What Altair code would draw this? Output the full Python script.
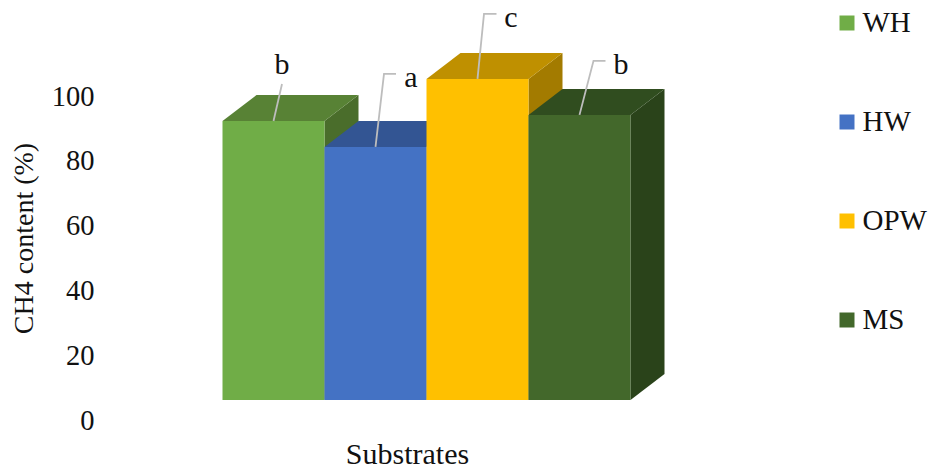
import altair as alt
import pandas as pd

# Substrates and their methane content (%), with significance letters
substrates = ["WH", "HW", "OPW", "MS"]
ch4_content = [86.1, 78.1, 99.1, 88.0]
letters = ["b", "a", "c", "b"]

front_colors = ["#70AD47", "#4472C4", "#FFC000", "#43682B"]
top_colors = ["#588235", "#335593", "#BF9000", "#304D1F"]
side_colors = ["#4A6D2B", "#2F4E88", "#A37B00", "#2A431A"]

TICKS = [0, 20, 40, 60, 80, 100]

# Plot scale and the 3-D extrusion of each column
PX_PER_BAR = 102.0
PX_PER_UNIT = 3.24
LEFT, TOP, PLOT_W, PLOT_H = 100, 0, 700, 400
BAR_START_PX = 222.5
DEPTH_X = 34 / PX_PER_BAR
DEPTH_Y = 26 / PX_PER_UNIT

# Leader lines: elbow and end of each line, relative to the column's top centre (px)
leader_elbow = [(8.5, 37), (8.5, 73), (6.5, 65), (14, 54)]
leader_end = [(8.5, 37), (20.5, 73), (19, 65), (26, 54)]
label_shift = [(8.5, 56), (35.5, 69), (33.5, 61), (41.5, 50)]

x_domain = [(LEFT - BAR_START_PX) / PX_PER_BAR,
            (LEFT + PLOT_W - BAR_START_PX) / PX_PER_BAR]
y_domain = [0, PLOT_H / PX_PER_UNIT]

front_rows, top_rows, side_rows, leader_rows, label_rows = [], [], [], [], []
for i, (name, v) in enumerate(zip(substrates, ch4_content)):
    x0, x1 = float(i), float(i + 1)
    front_rows.append({"name": name, "x0": x0, "x1": x1, "v": v})
    for x, y, y2 in [(x0, v, v),
                     (x0 + DEPTH_X, v + DEPTH_Y, v),
                     (x1, v + DEPTH_Y, v),
                     (x1 + DEPTH_X, v + DEPTH_Y, v + DEPTH_Y)]:
        top_rows.append({"name": name, "x": x, "y": y, "y2": y2, "shade": top_colors[i]})
    for x, y, y2 in [(x1, v, 0.0), (x1 + DEPTH_X, v + DEPTH_Y, DEPTH_Y)]:
        side_rows.append({"name": name, "x": x, "y": y, "y2": y2, "shade": side_colors[i]})

    cx = i + 0.5
    path = [(0.0, 0.0), leader_elbow[i], leader_end[i]]
    for k, (dx, dy) in enumerate(path):
        leader_rows.append({"name": f"{name}", "k": k,
                            "x": cx + dx / PX_PER_BAR, "y": v + dy / PX_PER_UNIT})
    label_rows.append({"x": cx + label_shift[i][0] / PX_PER_BAR,
                       "y": v + label_shift[i][1] / PX_PER_UNIT, "letter": letters[i]})

x_scale = alt.Scale(domain=x_domain, nice=False, zero=False)
y_scale = alt.Scale(domain=y_domain, nice=False, zero=False)
FONT = "Liberation Serif"
INK = "#111111"

x_axis = alt.Axis(title="Substrates", domain=False, ticks=False, labels=False, grid=False,
                  titleFont=FONT, titleFontSize=30, titleFontWeight="normal", titleColor=INK,
                  titleX=307, titleY=63, titleAnchor="middle", titleAlign="center",
                  titleBaseline="alphabetic")
y_axis = alt.Axis(title="CH4 content (%)", values=TICKS, domain=False, ticks=False, grid=False,
                  labelOffset=20, labelPadding=6, labelFont=FONT, labelFontSize=28.5,
                  labelColor=INK, titleFont=FONT, titleFontSize=28, titleFontWeight="normal",
                  titleColor=INK, titleX=-68, titleY=238, titleAngle=270, titleAlign="center",
                  titleBaseline="alphabetic")

sides = alt.Chart(pd.DataFrame(side_rows)).mark_area(orient="vertical", interpolate="linear").encode(
    x=alt.X("x:Q", scale=x_scale, axis=x_axis),
    y=alt.Y("y:Q", scale=y_scale, axis=y_axis, stack=None),
    y2="y2:Q",
    fill=alt.Fill("shade:N", scale=None),
)
tops = alt.Chart(pd.DataFrame(top_rows)).mark_area(orient="vertical", interpolate="linear").encode(
    x=alt.X("x:Q", scale=x_scale),
    y=alt.Y("y:Q", scale=y_scale, stack=None),
    y2="y2:Q",
    fill=alt.Fill("shade:N", scale=None),
)
fronts = alt.Chart(pd.DataFrame(front_rows)).mark_rect().encode(
    x=alt.X("x0:Q", scale=x_scale),
    x2="x1:Q",
    y=alt.Y("v:Q", scale=y_scale),
    y2=alt.Y2(datum=0),
    color=alt.Color(
        "name:N",
        scale=alt.Scale(domain=substrates, range=front_colors),
        legend=alt.Legend(
            title=None, orient="none", legendX=732.5, legendY=8.5, direction="vertical",
            symbolType="square", symbolSize=225, symbolStrokeWidth=0, symbolOpacity=1,
            labelFont=FONT, labelFontSize=29, labelColor=INK, labelOffset=1,
            rowPadding=69, labelLimit=120,
        ),
    ),
)
leaders = alt.Chart(pd.DataFrame(leader_rows)).mark_line(
    color="#BDBDBD", strokeWidth=1.8
).encode(
    x=alt.X("x:Q", scale=x_scale),
    y=alt.Y("y:Q", scale=y_scale),
    detail="name:N",
    order="k:Q",
)
labels = alt.Chart(pd.DataFrame(label_rows)).mark_text(
    font=FONT, fontSize=30, color=INK, align="center", baseline="middle"
).encode(
    x=alt.X("x:Q", scale=x_scale),
    y=alt.Y("y:Q", scale=y_scale),
    text="letter:N",
)

# With contains="padding" the width and height cover the whole canvas, padding included
chart = alt.layer(sides, tops, fronts, leaders, labels).properties(
    width=931,
    height=470,
    padding={"left": LEFT, "top": TOP, "right": 931 - LEFT - PLOT_W, "bottom": 470 - TOP - PLOT_H},
    autosize=alt.AutoSizeParams(type="none", contains="padding"),
    background="#FFFFFF",
).configure_view(stroke=None)

chart.save("out.html", embed_options={"renderer": "svg", "actions": False})
